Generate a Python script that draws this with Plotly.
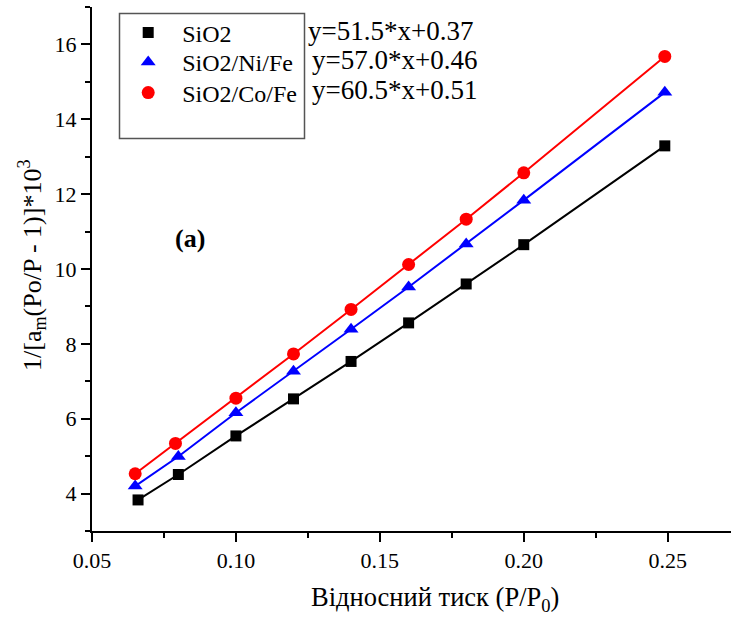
import plotly.graph_objects as go

x_sio2 = [0.066, 0.080, 0.100, 0.120, 0.140, 0.160, 0.180, 0.200, 0.249]
y_sio2 = [3.83, 4.51, 5.54, 6.53, 7.53, 8.56, 9.60, 10.65, 13.29]

x_nife = [0.065, 0.080, 0.100, 0.120, 0.140, 0.160, 0.180, 0.200, 0.249]
y_nife = [4.20, 4.99, 6.16, 7.27, 8.39, 9.52, 10.67, 11.84, 14.72]

x_cofe = [0.065, 0.079, 0.100, 0.120, 0.140, 0.160, 0.180, 0.200, 0.249]
y_cofe = [4.53, 5.34, 6.55, 7.73, 8.92, 10.12, 11.33, 12.57, 15.68]

names = ["SiO2", "SiO2/Ni/Fe", "SiO2/Co/Fe"]
equations = ["y=51.5*x+0.37", "y=57.0*x+0.46", "y=60.5*x+0.51"]
colors = ["#000000", "#0000ff", "#ff0000"]
symbols = ["square", "triangle-up", "circle"]
sizes = [11, 13, 13]

FONT = "Liberation Serif"
fig = go.Figure()
series = [(x_sio2, y_sio2), (x_nife, y_nife), (x_cofe, y_cofe)]
for (xs, ys), c in zip(series, colors):
    fig.add_trace(go.Scatter(x=xs, y=ys, mode="lines", line=dict(color=c, width=2),
                             showlegend=False, hoverinfo="skip"))
legend_ids = ["legend", "legend2", "legend3"]
for (xs, ys), n, c, s, sz, lg in zip(series, names, colors, symbols, sizes, legend_ids):
    fig.add_trace(go.Scatter(x=xs, y=ys, mode="markers", name=n, legend=lg,
                             marker=dict(color=c, symbol=s, size=sz, line=dict(width=0))))

W, H = 731, 619
L, R, T, B = 92, 0, 7, 88
pw, ph = W - L - R, H - T - B

def px(x):
    return (x - L) / pw

def py(y):
    return 1 - (y - T) / ph

fig.add_shape(type="rect", xref="paper", yref="paper",
              x0=px(119.5), x1=px(304.5), y0=py(138.5), y1=py(13.5),
              line=dict(color="#555555", width=1.5), fillcolor="rgba(0,0,0,0)")

row_y = [31, 60, 90]
eq_x = [306, 310, 310]
for eq, ry, ex in zip(equations, row_y, eq_x):
    fig.add_annotation(text=eq, xref="paper", yref="paper", x=px(ex), y=py(ry),
                       xanchor="left", yanchor="middle", showarrow=False,
                       font=dict(family=FONT, size=27, color="black"))

fig.add_annotation(text="<b>(a)</b>", xref="paper", yref="paper", x=px(173), y=py(238),
                   xanchor="left", yanchor="middle", showarrow=False,
                   font=dict(family=FONT, size=26, color="black"))

fig.add_annotation(text="Відносний тиск (P/P<sub>0</sub>)", xref="paper", yref="paper",
                   x=px(435), y=py(599), xanchor="center", yanchor="middle", showarrow=False,
                   font=dict(family=FONT, size=26.5, color="black"))

fig.add_annotation(text="1/[a<sub>m</sub>(Po/P - 1)]*10<sup>3</sup>", xref="paper", yref="paper",
                   x=px(32), y=py(266), xanchor="center", yanchor="middle", showarrow=False,
                   textangle=-90, font=dict(family=FONT, size=26, color="black"))

legend_rows = [32.5, 62, 92.5]
leg_common = dict(xanchor="left", yanchor="top", bgcolor="rgba(0,0,0,0)", borderwidth=0,
                  itemwidth=58, font=dict(family=FONT, size=24), itemsizing="trace")
legends = {}
for lg, ry in zip(legend_ids, legend_rows):
    legends[lg] = dict(x=px(114.2), y=py(ry - 22), **leg_common)

fig.update_layout(
    width=W, height=H,
    margin=dict(l=L, r=R, t=T, b=B, autoexpand=False),
    paper_bgcolor="white", plot_bgcolor="white",
    font=dict(family=FONT, size=22, color="black"),
    showlegend=True,
    **legends,
)
fig.update_xaxes(range=[0.05, 0.272], showline=True, linecolor="black", linewidth=2,
                 showgrid=False, zeroline=False, ticks="outside", ticklen=9, tickwidth=2,
                 tickcolor="black", dtick=0.05, tick0=0.05, tickformat=".2f", automargin=False,
                 tickfont=dict(family=FONT, size=22),
                 minor=dict(ticks="outside", ticklen=5, tickwidth=2, tickcolor="black", dtick=0.025, showgrid=False))
fig.update_yaxes(range=[3, 17], showline=True, linecolor="black", linewidth=2,
                 showgrid=False, zeroline=False, ticks="outside", ticklen=9, tickwidth=2,
                 tickcolor="black", dtick=2, tick0=0, automargin=False,
                 tickfont=dict(family=FONT, size=22),
                 minor=dict(ticks="outside", ticklen=5, tickwidth=2, tickcolor="black", dtick=1, showgrid=False))

fig.write_html("out.html", config={"displayModeBar": False},
               post_script="document.body.style.margin='0';")
